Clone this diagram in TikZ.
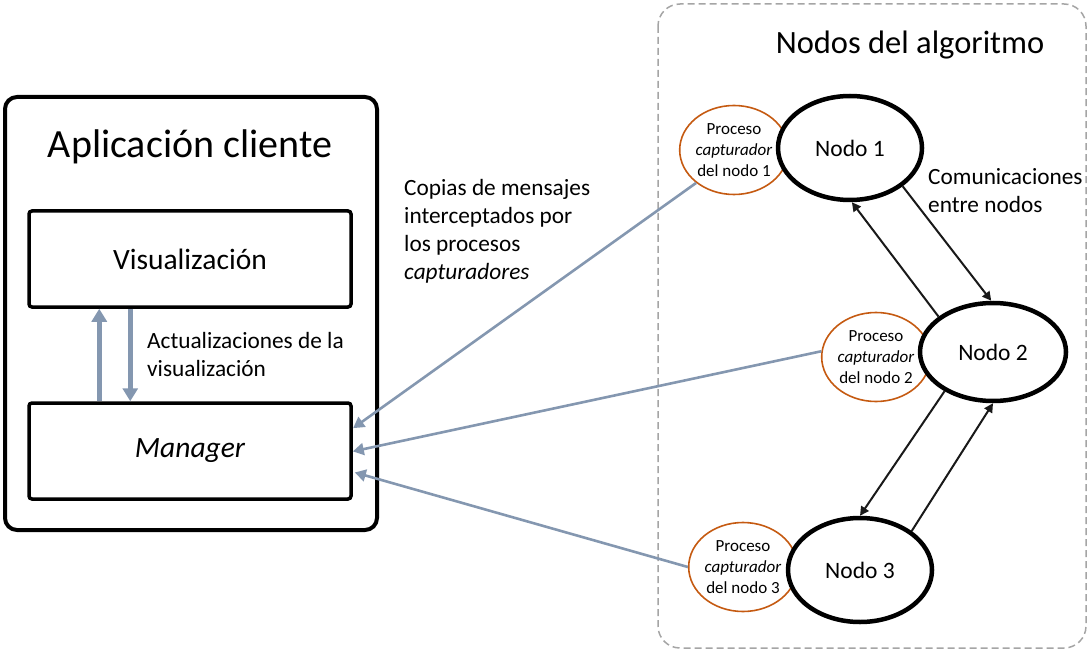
\documentclass[tikz,border=0pt]{standalone}
\usepackage{fontspec}
\setmainfont{Carlito}
\usetikzlibrary{shapes.geometric,arrows.meta,calc}
\definecolor{steel}{RGB}{132,151,176}
\definecolor{rust}{RGB}{197,90,17}
\definecolor{dashgray}{RGB}{165,165,165}
\tikzset{
  outerbox/.style={draw, line width=4pt, rounded corners=12pt},
  innerbox/.style={draw, line width=3.5pt, rounded corners=3pt, minimum width=322pt, minimum height=96pt, inner sep=0pt, font=\fontsize{29.5}{34}\selectfont},
  nodo/.style={ellipse, draw, line width=4.5pt, fill=white, minimum width=144pt, minimum height=104pt, inner sep=0pt, font=\fontsize{23.5}{28}\selectfont},
  capt/.style={ellipse, draw=rust, line width=1.6pt, fill=white, minimum width=106pt, minimum height=89pt, inner sep=0pt, align=center, font=\fontsize{17}{21}\selectfont},
  msg/.style={draw=steel, line width=2.6pt, -{Triangle[length=11pt,width=12pt]}, shorten >=-2pt},
  upd/.style={draw=steel, line width=5pt, -{Triangle[length=13pt,width=15pt]}},
  comm/.style={draw=black!90, line width=2pt, -{Triangle[length=9pt,width=9pt]}},
  lbl/.style={align=left, anchor=west, inner sep=0pt, font=\fontsize{23.3}{28}\selectfont},
}
\begin{document}
\begin{tikzpicture}[x=1pt,y=-1pt]
\useasboundingbox (0,0) rectangle (1089,652);
% dashed region
\draw[dashgray, line width=1.5pt, dash pattern=on 7pt off 4pt, rounded corners=22pt] (658,4) rectangle (1086,648);
\node[inner sep=0pt, font=\fontsize{32.5}{38}\selectfont] (titulo) at (910,45) {Nodos del algoritmo};
% client application
\draw[outerbox] (5,97) rectangle (377,530);
\node[inner sep=0pt, font=\fontsize{40}{46}\selectfont] (app) at (190,147) {Aplicación cliente};
\node[innerbox] (vis) at (190,259) {Visualización};
\node[innerbox] (mgr) at (190,451) {\itshape Manager};
\draw[upd] ([xshift=72pt]mgr.north west) -- ([xshift=72pt]vis.south west);
\draw[upd] ([xshift=103pt]vis.south west) -- ([xshift=103pt]mgr.north west);
\node[lbl] (actlbl) at (147,354) {Actualizaciones de la\\visualización};
\node[lbl] (coplbl) at (404,231) {Copias de mensajes\\interceptados por\\los procesos\\\textit{capturadores}};
% capture processes
\node[capt] (c1) at (734,150) {Proceso\\\textit{capturador}\\del nodo 1};
\node[capt] (c2) at (876,357) {Proceso\\\textit{capturador}\\del nodo 2};
\node[capt] (c3) at (743,567) {Proceso\\\textit{capturador}\\del nodo 3};
% algorithm nodes
\node[nodo] (n1) at (850,148) {Nodo 1};
\node[nodo, minimum width=146pt, minimum height=98pt] (n2) at (993,352) {Nodo 2};
\node[nodo] (n3) at (860,570) {Nodo 3};
\node[lbl] (comlbl) at (928,191) {Comunicaciones\\entre nodos};
% communications
\draw[comm] (n1.-36) -- (n2.92);
\draw[comm] (n2.147) -- (n1.-88);
\draw[comm] (n2.-141) -- (n3.north);
\draw[comm] (n3.37) -- (n2.-90);
% message copies
\draw[msg] (c1.221) -- ($(mgr.east)+(2,-24)$);
\draw[msg] (c2.174) -- ($(mgr.east)+(2,0)$);
\draw[msg] (c3.west) -- ($(mgr.east)+(4,22)$);
\end{tikzpicture}
\end{document}
